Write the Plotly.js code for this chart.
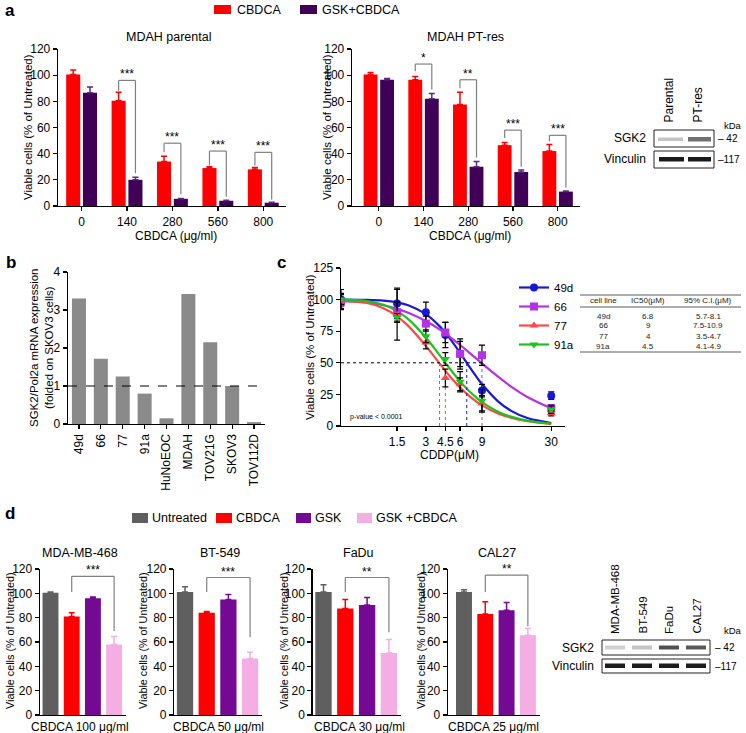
<!DOCTYPE html>
<html><head><meta charset="utf-8">
<script src="https://cdn.plot.ly/plotly-3.0.1.min.js"></script>
<style>html,body{margin:0;padding:0;background:#fff}#chart{width:746px;height:733px}</style>
</head><body><div id="chart"></div>
<script>
// ================= DATA =================
// Panel a : MDAH viability
const doseLabels = ['0','140','280','560','800'];
const parentalCBDCA    = [100.5, 80.5, 34, 29, 28];
const parentalCBDCAErr = [3.5, 6.5, 4, 1, 1.5];
const parentalGSK      = [86.5, 20, 5.5, 4, 2.5];
const parentalGSKErr   = [4.5, 2, 0.3, 0.4, 0.3];
const ptresCBDCA       = [100.5, 96.5, 77.5, 46.5, 42];
const ptresCBDCAErr    = [1.5, 2.5, 9.5, 2, 5];
const ptresGSK         = [96.5, 82, 30, 26, 11];
const ptresGSKErr      = [1, 4, 4, 1.5, 0.5];
// significance brackets (doses 140..800)
const parentalSig         = ['***','***','***','***'];
const parentalSigY        = [96, 48, 42, 41];
const parentalSigLeftEnd  = [88, 41, 31, 31];
const parentalSigRightEnd = [25, 9, 7, 5];
const ptresSig            = ['*','**','***','***'];
const ptresSigY           = [108.5, 96.5, 58, 54];
const ptresSigLeftEnd     = [103, 90, 52, 49.5];
const ptresSigRightEnd    = [89, 37, 30, 14];

// Panel b : SGK2 mRNA expression
const cellLines = ['49d','66','77','91a','HuNoEOC','MDAH','TOV21G','SKOV3','TOV112D'];
const sgk2Expr  = [3.3, 1.72, 1.25, 0.8, 0.15, 3.42, 2.15, 1.0, 0.05];

// Panel c : CDDP dose response
const cddpDoses = [0, 1.5, 3, 4.5, 6, 9, 30];
const cddpTicks = [1.5, 3, 4.5, 6, 9, 30];
const v49d = [100, 97, 90, 72, 57, 28, 24];
const e49d = [8, 12, 8, 10, 10, 5, 3];
const v66  = [98, 90, 81, 74, 57, 56, 14];
const e66  = [3, 8, 6, 8, 12, 8, 3];
const v77  = [99, 88, 66, 38, 33, 18, 10];
const e77  = [6, 20, 5, 7, 5, 6, 2];
const v91a = [100, 86, 71, 53, 35, 20, 13];
const e91a = [4, 3, 5, 5, 8, 9, 3];
// fitted curves
const curveDoses = [0, 0.5, 1, 1.5, 2, 3, 4, 4.5, 5, 6, 7, 8, 9, 12, 15, 20, 30];
const fit49d = [100, 99.8, 99.2, 97.8, 95.5, 88.5, 79, 73.7, 68.3, 57.8, 48.2, 40, 33.2, 19.5, 12.2, 6.3, 2.4];
const fit66  = [99, 97.7, 95.5, 92.7, 89.6, 83, 76.4, 73.1, 70, 64.1, 58.7, 53.9, 49.5, 39, 31.4, 23, 14];
const fit77  = [99, 97.5, 93.2, 86.8, 79.2, 63.4, 49.5, 43.7, 38.6, 30.5, 24.4, 19.8, 16.3, 9.9, 6.6, 3.8, 1.7];
const fit91a = [100, 99, 95.9, 90.9, 84.6, 70, 56.1, 50, 44.5, 35.3, 28.3, 23, 18.9, 11.3, 7.4, 4.2, 1.8];
// table
const tableLines = ['49d','66','77','91a'];
const ic50       = [6.8, 9, 4, 4.5];
const ic50CI     = ['5.7-8.1','7.5-10.9','3.5-4.7','4.1-4.9'];

// Panel d : four cell lines
const dLines      = ['MDA-MB-468','BT-549','FaDu','CAL27'];
const dDoseLabels = ['CBDCA 100 μg/ml','CBDCA 50 μg/ml','CBDCA 30 μg/ml','CBDCA 25 μg/ml'];
const dTreatments = ['Untreated','CBDCA','GSK','GSK +CBDCA'];
const dUntreated     = [100.5, 101, 101, 101];
const dUntreatedErr  = [0.5, 4.5, 6, 2];
const dCBDCA         = [81, 84, 87.5, 83];
const dCBDCAErr      = [3, 1, 7.5, 10];
const dGSK           = [96, 95, 90.5, 86];
const dGSKErr        = [1, 4, 6, 6.5];
const dCombo         = [58, 46.5, 51, 65.5];
const dComboErr      = [6.5, 5, 11, 5.5];
const dSig           = ['***','***','**','**'];
const dSigY          = [114, 113, 113, 115];
const dSigLeftEnd    = [101, 101, 101, 101];
const dSigRightEnd   = [69, 64, 68, 73];

// ================= STYLE / LAYOUT HELPERS =================
const W = 746, H = 733;
const px = x => x / W;
const py = y => 1 - y / H;
const FONT = 'Liberation Sans, Arial, sans-serif';
const A_RED = '#fe0000', A_PUR = '#400058';
const B_GRAY = '#8a8a8a';
const C_COL = ['#1818d2', '#b432e6', '#ff4848', '#1ac41a'];
const C_SYM = ['circle', 'square', 'triangle-up', 'triangle-down'];
const D_COL = ['#5f5f5f', '#fe0000', '#740a94', '#f4aee3'];
const BRACKET = '#808080';

const traces = [], shapes = [], annotations = [];

function axisStyle(extra) {
  return Object.assign({
    showline: true, linecolor: '#000', linewidth: 1.3, mirror: false,
    showgrid: false, zeroline: false, ticks: 'outside', ticklen: 4, tickwidth: 1.3, tickcolor: '#000',
    tickfont: {family: FONT, size: 12, color: '#000'}, fixedrange: true
  }, extra);
}
function ann(text, x, y, o) {
  annotations.push(Object.assign({text: text, x: x, y: y, xref: 'paper', yref: 'paper',
    showarrow: false, xanchor: 'center', yanchor: 'middle',
    font: {family: FONT, size: 12, color: '#000'}}, o || {}));
}
function rect(x0, y0, x1, y1, fill, line) {
  shapes.push({type: 'rect', xref: 'paper', yref: 'paper', x0: px(x0), x1: px(x1), y0: py(y0), y1: py(y1),
    fillcolor: fill || 'rgba(0,0,0,0)', line: line || {width: 0}});
}
function bracket(xid, yid, xl, xr, top, lEnd, rEnd, label) {
  const ln = {color: BRACKET, width: 1.2};
  shapes.push({type: 'line', xref: xid, yref: yid, x0: xl, x1: xl, y0: lEnd, y1: top, line: ln});
  shapes.push({type: 'line', xref: xid, yref: yid, x0: xl, x1: xr, y0: top, y1: top, line: ln});
  shapes.push({type: 'line', xref: xid, yref: yid, x0: xr, x1: xr, y0: top, y1: rEnd, line: ln});
  annotations.push({text: label, x: (xl + xr) / 2, y: top, xref: xid, yref: yid, showarrow: false,
    xanchor: 'center', yanchor: 'bottom', yshift: -3, font: {family: FONT, size: 12, color: '#000'}});
}
const zeros = a => a.map(() => 0);

// ================= PANEL a =================
function panelA(xid, yid, red, redErr, pur, purErr, sig, sigY, lEnd, rEnd) {
  traces.push({type: 'bar', name: 'CBDCA', x: doseLabels, y: red, xaxis: xid, yaxis: yid,
    width: 0.31, offset: -0.34, marker: {color: A_RED, line: {width: 0}}, showlegend: false, hoverinfo: 'skip',
    error_y: {type: 'data', symmetric: false, array: redErr, arrayminus: zeros(redErr), color: A_RED, thickness: 1.5, width: 3}});
  traces.push({type: 'bar', name: 'GSK+CBDCA', x: doseLabels, y: pur, xaxis: xid, yaxis: yid,
    width: 0.31, offset: 0.03, marker: {color: A_PUR, line: {width: 0}}, showlegend: false, hoverinfo: 'skip',
    error_y: {type: 'data', symmetric: false, array: purErr, arrayminus: zeros(purErr), color: '#5a2a78', thickness: 1.5, width: 3}});
  sig.forEach((s, k) => {
    const i = k + 1;
    bracket(xid, yid, i - 0.185, i + 0.185, sigY[k], lEnd[k], rEnd[k], s);
  });
}
panelA('x', 'y', parentalCBDCA, parentalCBDCAErr, parentalGSK, parentalGSKErr,
  parentalSig, parentalSigY, parentalSigLeftEnd, parentalSigRightEnd);
panelA('x2', 'y2', ptresCBDCA, ptresCBDCAErr, ptresGSK, ptresGSKErr,
  ptresSig, ptresSigY, ptresSigLeftEnd, ptresSigRightEnd);

ann('<b>a</b>', px(10), py(11), {font: {family: FONT, size: 17, color: '#000'}});
ann('MDAH parental', px(168), py(37), {font: {family: FONT, size: 12.5, color: '#000'}});
ann('MDAH PT-res', px(465), py(37), {font: {family: FONT, size: 12.5, color: '#000'}});
ann('CBDCA (μg/ml)', px(176), py(236), {font: {family: FONT, size: 12, color: '#000'}});
ann('CBDCA (μg/ml)', px(470), py(236), {font: {family: FONT, size: 12, color: '#000'}});
ann('Viable cells (% of Untreated)', px(28), py(127), {textangle: -90, font: {family: FONT, size: 11.5, color: '#000'}});
ann('Viable cells (% of Untreated)', px(327), py(127), {textangle: -90, font: {family: FONT, size: 11.5, color: '#000'}});
// legend a
rect(214, 5, 231, 14, A_RED);
ann('CBDCA', px(235), py(10), {xanchor: 'left', font: {family: FONT, size: 12.5, color: '#000'}});
rect(300, 5, 317, 14, A_PUR);
ann('GSK+CBDCA', px(320), py(10), {xanchor: 'left', font: {family: FONT, size: 12.5, color: '#000'}});

// blot a
rect(654, 130, 714, 147, null, {color: '#222', width: 1});
rect(654, 151, 714, 168, null, {color: '#222', width: 1});
rect(658, 137.5, 683, 141, '#c4c4c4');
rect(688, 137, 711, 141.5, '#707070');
rect(659, 157, 684, 161.5, '#1a1a1a');
rect(688, 157, 711, 161.5, '#1a1a1a');
ann('Parental', px(668), py(125), {textangle: -90, yanchor: 'bottom'});
ann('PT-res', px(697), py(125), {textangle: -90, yanchor: 'bottom'});
ann('SGK2', px(648), py(138.5), {xanchor: 'right'});
ann('Vinculin', px(648), py(159.5), {xanchor: 'right'});
ann('kDa', px(733), py(126), {font: {family: FONT, size: 9.5, color: '#000'}});
ann('– 42', px(716), py(138.5), {xanchor: 'left', font: {family: FONT, size: 10, color: '#000'}});
ann('–117', px(716), py(159.5), {xanchor: 'left', font: {family: FONT, size: 10, color: '#000'}});

// ================= PANEL b =================
traces.push({type: 'bar', x: cellLines, y: sgk2Expr, xaxis: 'x3', yaxis: 'y3', width: 0.64,
  marker: {color: B_GRAY, line: {width: 0}}, showlegend: false, hoverinfo: 'skip'});
shapes.push({type: 'line', xref: 'x3 domain', yref: 'y3', x0: 0, x1: 1, y0: 1, y1: 1,
  line: {color: '#000', width: 1, dash: 'dash'}});
ann('<b>b</b>', px(11), py(262), {font: {family: FONT, size: 17, color: '#000'}});
ann('SGK2/Pol2a mRNA expression<br>(folded on SKOV3 cells)', px(41), py(348),
  {textangle: -90, font: {family: FONT, size: 11.5, color: '#000'}});

// ================= PANEL c =================
const cSeries = [['49d', v49d, e49d, fit49d], ['66', v66, e66, fit66], ['77', v77, e77, fit77], ['91a', v91a, e91a, fit91a]];
const shifted = a => a.map(c => c + 1);   // axis is log(dose + 1)
cSeries.forEach((s, k) => {
  traces.push({type: 'scatter', mode: 'lines', x: shifted(curveDoses), y: s[3], xaxis: 'x4', yaxis: 'y4',
    line: {color: C_COL[k], width: 2.2, shape: 'spline', smoothing: 1}, showlegend: false, hoverinfo: 'skip'});
});
cSeries.forEach((s, k) => {
  traces.push({type: 'scatter', mode: 'lines', x: [ic50[k] + 1, ic50[k] + 1], y: [0, 50], xaxis: 'x4', yaxis: 'y4',
    line: {color: C_COL[k], width: 1, dash: 'dot'}, showlegend: false, hoverinfo: 'skip'});
});
traces.push({type: 'scatter', mode: 'lines', x: [1, Math.max.apply(null, ic50) + 1], y: [50, 50], xaxis: 'x4', yaxis: 'y4',
  line: {color: '#000', width: 1, dash: 'dot'}, showlegend: false, hoverinfo: 'skip'});
cSeries.forEach((s, k) => {
  traces.push({type: 'scatter', mode: 'markers', x: shifted(cddpDoses), y: s[1], xaxis: 'x4', yaxis: 'y4',
    marker: {color: C_COL[k], symbol: C_SYM[k], size: 8}, showlegend: false, hoverinfo: 'skip',
    error_y: {type: 'data', array: s[2], color: '#000', thickness: 1.2, width: 3}});
});
cSeries.forEach((s, k) => {
  traces.push({type: 'scatter', mode: 'lines+markers', name: s[0], x: [null], y: [null], xaxis: 'x4', yaxis: 'y4',
    marker: {color: C_COL[k], symbol: C_SYM[k], size: 8}, line: {color: C_COL[k], width: 2.2}, showlegend: true});
});
ann('<b>c</b>', px(281), py(262), {font: {family: FONT, size: 17, color: '#000'}});
ann('Viable cells (% of Untreated)', px(310), py(347), {textangle: -90, font: {family: FONT, size: 11.5, color: '#000'}});
ann('CDDP(μM)', px(450), py(455), {font: {family: FONT, size: 12, color: '#000'}});
ann('p-value < 0.0001', px(348), py(417), {xanchor: 'left', font: {family: FONT, size: 7, color: '#000'}});
// table
const tcx = [603, 648, 708];
const tf = {family: FONT, size: 8, color: '#222'};
shapes.push({type: 'line', xref: 'paper', yref: 'paper', x0: px(580), x1: px(741), y0: py(295), y1: py(295), line: {color: '#333', width: 0.8}});
shapes.push({type: 'line', xref: 'paper', yref: 'paper', x0: px(580), x1: px(741), y0: py(307), y1: py(307), line: {color: '#333', width: 0.8}});
shapes.push({type: 'line', xref: 'paper', yref: 'paper', x0: px(580), x1: px(741), y0: py(352), y1: py(352), line: {color: '#333', width: 0.8}});
ann('cell line', px(tcx[0]), py(301), {font: tf});
ann('IC50(μM)', px(tcx[1]), py(301), {font: tf});
ann('95% C.I.(μM)', px(tcx[2]), py(301), {font: tf});
tableLines.forEach((n, k) => {
  const yy = 316 + 10 * k;
  ann(n, px(tcx[0]), py(yy), {font: tf});
  ann(String(ic50[k]), px(tcx[1]), py(yy), {font: tf});
  ann(ic50CI[k], px(tcx[2]), py(yy), {font: tf});
});

// ================= PANEL d =================
const dVals = [dUntreated, dCBDCA, dGSK, dCombo];
const dErrs = [dUntreatedErr, dCBDCAErr, dGSKErr, dComboErr];
const dErrCol = ['#5f5f5f', '#fe0000', '#740a94', '#f4aee3'];
dLines.forEach((name, j) => {
  const xid = 'x' + (5 + j), yid = 'y' + (5 + j);
  dTreatments.forEach((t, k) => {
    traces.push({type: 'bar', name: t, x: [t], y: [dVals[k][j]], xaxis: xid, yaxis: yid, width: 0.75,
      marker: {color: D_COL[k], line: {width: 0}}, showlegend: false, hoverinfo: 'skip',
      error_y: {type: 'data', symmetric: false, array: [dErrs[k][j]], arrayminus: [0], color: dErrCol[k], thickness: 1.5, width: 3}});
  });
  bracket(xid, yid, 1, 3, dSigY[j], dSigLeftEnd[j], dSigRightEnd[j], dSig[j]);
});
const dTitleX = [80, 220, 358, 497];
const dYTitleX = [10, 143, 284, 421];
const dXTitleX = [80, 219, 359, 493];
dLines.forEach((name, j) => {
  ann(name, px(dTitleX[j]), py(553), {font: {family: FONT, size: 12.5, color: '#000'}});
  ann('Viable cells (% of Untreated)', px(dYTitleX[j]), py(641), {textangle: -90, font: {family: FONT, size: 10.8, color: '#000'}});
  ann(dDoseLabels[j], px(dXTitleX[j]), py(727), {font: {family: FONT, size: 12, color: '#000'}});
});
ann('<b>d</b>', px(10), py(513), {font: {family: FONT, size: 17, color: '#000'}});
// legend d
const dLegBox = [[132, 148], [216, 232], [296, 311], [357, 372]];
dTreatments.forEach((t, k) => {
  rect(dLegBox[k][0], 513, dLegBox[k][1], 523, D_COL[k]);
  ann(t, px(dLegBox[k][1] + 2), py(518), {xanchor: 'left', font: {family: FONT, size: 12.5, color: '#000'}});
});
// blot d
const laneX = [615, 642, 669, 696];
const sgkBand = ['#d0d0d0', '#c4c4c4', '#505050', '#5a5a5a'];
rect(602, 640, 710, 655, null, {color: '#222', width: 1});
rect(602, 659, 710, 673, null, {color: '#222', width: 1});
dLines.forEach((name, j) => {
  rect(laneX[j] - 10, 645.5, laneX[j] + 10, 649.5, sgkBand[j]);
  rect(laneX[j] - 10, 663.5, laneX[j] + 10, 668, '#1c1c1c');
  ann(name, px(laneX[j]), py(636), {textangle: -90, yanchor: 'bottom', font: {family: FONT, size: 11.5, color: '#000'}});
});
ann('SGK2', px(596), py(647.5), {xanchor: 'right'});
ann('Vinculin', px(596), py(666), {xanchor: 'right'});
ann('kDa', px(733), py(630), {font: {family: FONT, size: 9.5, color: '#000'}});
ann('– 42', px(713), py(647.5), {xanchor: 'left', font: {family: FONT, size: 10, color: '#000'}});
ann('–117', px(713), py(666), {xanchor: 'left', font: {family: FONT, size: 10, color: '#000'}});

// ================= LAYOUT =================
const dDomains = [[39.9, 125.8], [174.2, 262], [312.6, 400.9], [448, 539.6]];
const dRanges = [[-0.5, 3.55], [-0.5, 3.55], [-0.5, 3.55], [-0.75, 3.55]];
const layout = {
  width: W, height: H, margin: {l: 0, r: 0, t: 0, b: 0},
  paper_bgcolor: '#fff', plot_bgcolor: 'rgba(0,0,0,0)',
  font: {family: FONT, size: 12, color: '#000'},
  barmode: 'overlay', showlegend: true,
  legend: {x: px(514), y: py(273), xanchor: 'left', yanchor: 'top', bgcolor: 'rgba(0,0,0,0)',
    font: {family: FONT, size: 11.5, color: '#000'}, itemwidth: 30, tracegroupgap: 0},
  xaxis: axisStyle({domain: [px(58), px(286)], type: 'category', range: [-0.52, 4.5], anchor: 'y'}),
  yaxis: axisStyle({domain: [py(206), py(49)], range: [0, 120], dtick: 20, anchor: 'x'}),
  xaxis2: axisStyle({domain: [px(352), px(580)], type: 'category', range: [-0.6, 4.5], anchor: 'y2'}),
  yaxis2: axisStyle({domain: [py(206), py(49)], range: [0, 120], dtick: 20, anchor: 'x2'}),
  xaxis3: axisStyle({domain: [px(68), px(265)], type: 'category', range: [-0.5, 8.5], anchor: 'y3', tickangle: -90}),
  yaxis3: axisStyle({domain: [py(424), py(272)], range: [0, 4], dtick: 1, anchor: 'x3'}),
  xaxis4: axisStyle({domain: [px(341), px(565)], type: 'log', range: [0, 1.589], anchor: 'y4',
    tickvals: shifted(cddpTicks), ticktext: cddpTicks.map(String), tickfont: {family: FONT, size: 12, color: '#000'}}),
  yaxis4: axisStyle({domain: [py(426), py(268)], range: [0, 125], dtick: 25, anchor: 'x4'}),
  shapes: shapes, annotations: annotations
};
dDomains.forEach((d, j) => {
  layout['xaxis' + (5 + j)] = axisStyle({domain: [px(d[0]), px(d[1])], type: 'category', range: dRanges[j],
    categoryorder: 'array', categoryarray: dTreatments, anchor: 'y' + (5 + j), showticklabels: false, ticks: ''});
  layout['yaxis' + (5 + j)] = axisStyle({domain: [py(715), py(569)], range: [0, 120], dtick: 20, anchor: 'x' + (5 + j)});
});

Plotly.newPlot('chart', traces, layout, {staticPlot: true, displayModeBar: false});
</script>
</body></html>
